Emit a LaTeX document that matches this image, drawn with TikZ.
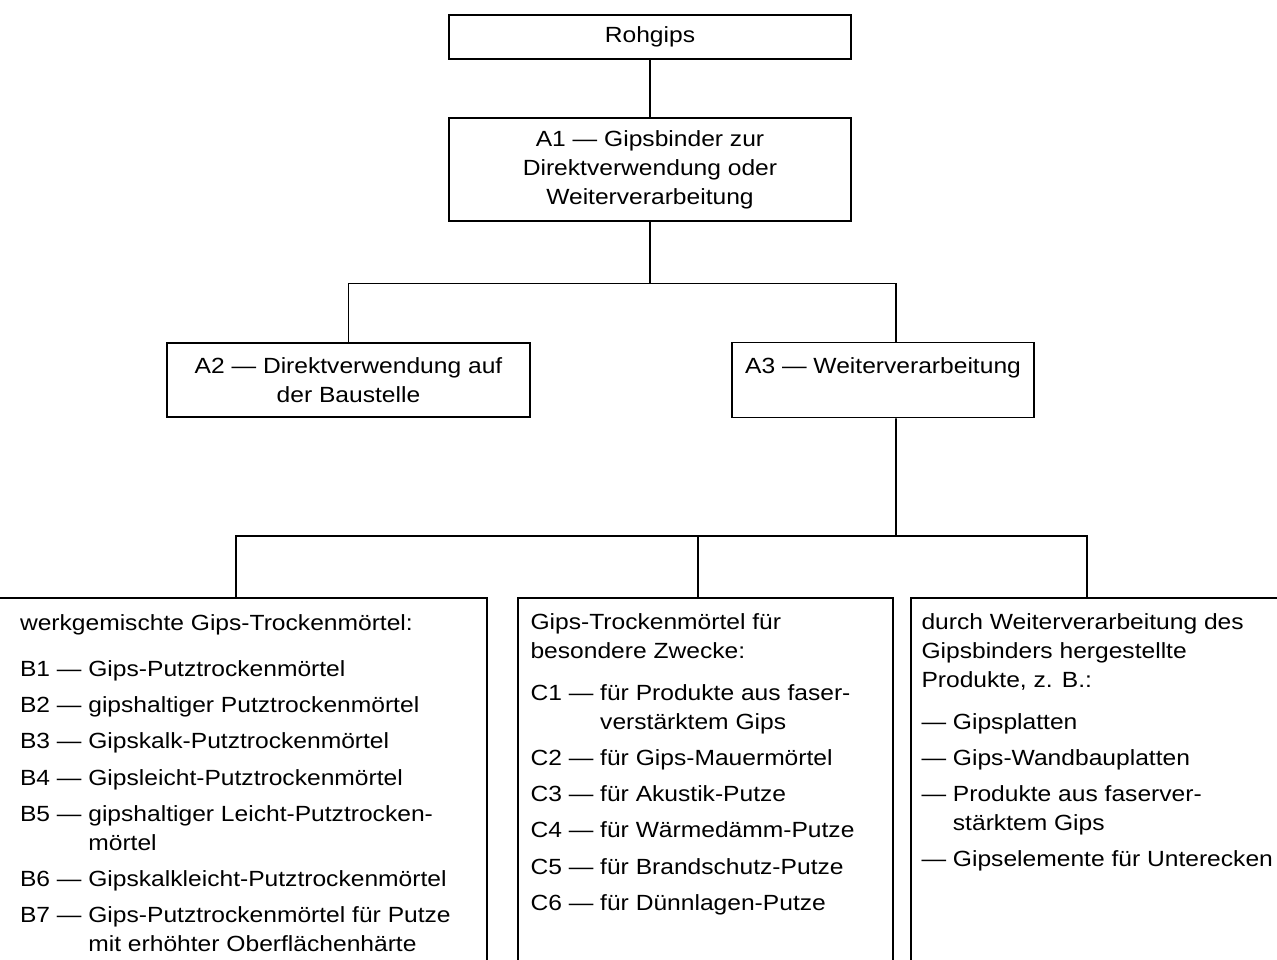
\documentclass[tikz,border=0pt]{standalone}
\usepackage{fontspec}
\setmainfont{Liberation Sans}[FakeStretch=1.12]
\usetikzlibrary{shapes,arrows}

\begin{document}
\begin{tikzpicture}[auto, node distance=3cm, line width=1.1pt, font=\fontsize{12.5}{16.6}\selectfont]
			\tikzset{
				process/.style={rectangle, draw=black, align=center, inner sep=0pt},
				listbox/.style={rectangle, draw=black, anchor=north, minimum height=7.8cm, inner sep=0pt},
				listtext/.style={align=left, anchor=north west, inner sep=0pt},
				line/.style={draw=black},
			}
			\useasboundingbox (0,0) rectangle (25.54,-19.2);
			\node[process, minimum width=8.04cm, minimum height=0.88cm](rohgips) at (13.0,-0.74){Rohgips};
			\node[process, below of=rohgips, yshift=0.35cm, minimum width=8.04cm, minimum height=2.06cm](binder){A1 — Gipsbinder zur\\Direktverwendung oder\\Weiterverarbeitung};
			\node[process, below of=binder, xshift=-6.03cm, yshift=-1.21cm, minimum width=7.26cm, minimum height=1.48cm](direkt){A2 — Direktverwendung auf\\der Baustelle};
			\node[process, right of=direkt, xshift=7.69cm, minimum width=6.04cm, minimum height=1.5cm](weiter){A3 — Weiterverarbeitung\\\mbox{}};
			\node[listbox, minimum width=10.04cm](mixbox) at (4.72,-11.94){};
			\node[listbox, minimum width=7.5cm](specbox) at (14.11,-11.94){};
			\node[listbox, minimum width=7.98cm](prodbox) at (22.21,-11.94){};
			\node[listtext, xshift=0.7cm, yshift=-0.33cm](mixtext) at (mixbox.north west){werkgemischte Gips-Trockenmörtel:\\[9.6pt]
				B1 — Gips-Putztrockenmörtel\\[4pt]
				B2 — gipshaltiger Putztrockenmörtel\\[4pt]
				B3 — Gipskalk-Putztrockenmörtel\\[4pt]
				B4 — Gipsleicht-Putztrockenmörtel\\[4pt]
				B5 — gipshaltiger Leicht-Putztrocken-\\
				\phantom{B5 — }mörtel\\[4pt]
				B6 — Gipskalkleicht-Putztrockenmörtel\\[4pt]
				B7 — Gips-Putztrockenmörtel für Putze\\
				\phantom{B7 — }mit erhöhter Oberflächenhärte};
			\node[listtext, xshift=0.25cm, yshift=-0.31cm](spectext) at (specbox.north west){Gips-Trockenmörtel für\\
				besondere Zwecke:\\[7pt]
				C1 — für Produkte aus faser-\\
				\phantom{C1 — }verstärktem Gips\\[4pt]
				C2 — für Gips-Mauermörtel\\[4pt]
				C3 — für Akustik-Putze\\[4pt]
				C4 — für Wärmedämm-Putze\\[4pt]
				C5 — für Brandschutz-Putze\\[4pt]
				C6 — für Dünnlagen-Putze};
			\node[listtext, xshift=0.21cm, yshift=-0.31cm](prodtext) at (prodbox.north west){durch Weiterverarbeitung des\\
				Gipsbinders hergestellte\\
				Produkte, z. B.:\\[7pt]
				— Gipsplatten\\[4pt]
				— Gips-Wandbauplatten\\[4pt]
				— Produkte aus faserver-\\
				\phantom{— }stärktem Gips\\[4pt]
				— Gipselemente für Unterecken};
			%draw lines
			\coordinate (upper) at (13.0,-5.67);
			\coordinate (lower) at (17.92,-10.72);
			\draw[line] (rohgips) -- (binder);
			\draw[line] (binder) -- (upper);
			\draw[line] (direkt) |- (upper) -| ([xshift=0.26cm]weiter.north);
			\draw[line] ([xshift=0.26cm]weiter.south) -- (lower);
			\draw[line] (mixbox) |- (lower) -| ([xshift=-0.47cm]prodbox.north);
			\draw[line] ([xshift=-0.15cm]specbox.north) |- (lower);
		\end{tikzpicture}
\end{document}
